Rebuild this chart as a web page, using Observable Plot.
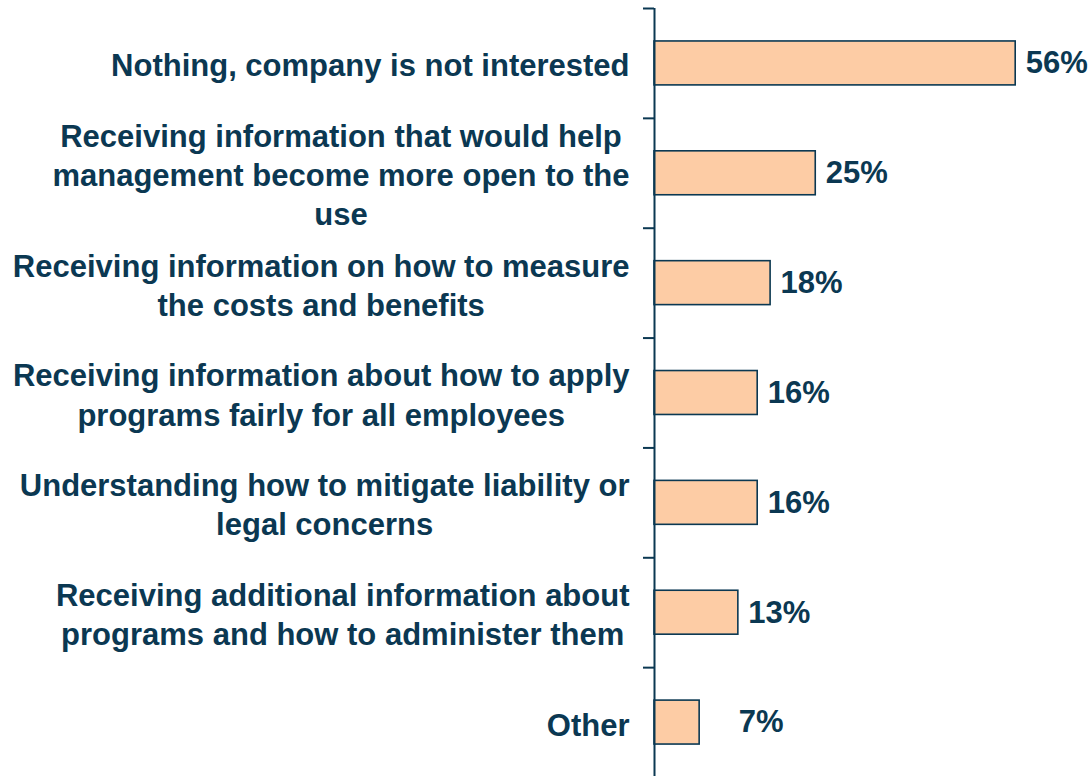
<!DOCTYPE html>
<html>
<head>
<meta charset="utf-8">
<script src="https://cdn.jsdelivr.net/npm/d3@7"></script>
<script src="https://cdn.jsdelivr.net/npm/@observablehq/plot@0.6"></script>
<style>
  html, body { margin: 0; padding: 0; background: #ffffff; }
  #chart { width: 1091px; height: 776px; overflow: hidden; }
</style>
</head>
<body>
<div id="chart"></div>
<script>
const categories = [
  "Nothing, company is not interested",
  "Receiving information that would help\nmanagement become more open to the\nuse",
  "Receiving information on how to measure\nthe costs and benefits",
  "Receiving information about how to apply\nprograms fairly for all employees",
  "Understanding how to mitigate liability or\nlegal concerns",
  "Receiving additional information about\nprograms and how to administer them",
  "Other"
];
const values = [56, 25, 18, 16, 16, 13, 7];
const valueLabels = ["56%", "25%", "18%", "16%", "16%", "13%", "7%"];

const data = categories.map((c, i) => ({category: c, value: values[i], label: valueLabels[i]}));

const W = 1091, H = 777, MT = 8, MB = 0, ML = 654, MR = 50;
const FONT = "'Liberation Sans', Arial, Helvetica, sans-serif";
const FS = 31;
const INK = "#0b3852";
const FILL = "#fdcca5";
const step = (H - MT - MB) / categories.length;

const ctx = document.createElement("canvas").getContext("2d");
ctx.font = `bold ${FS}px ${FONT}`;
const blockWidth = (s) => Math.max(...s.split("\n").map(l => ctx.measureText(l).width));

const labelMarks = data.map(d => Plot.text([d], {
  x: () => 0,
  y: "category",
  text: "category",
  textAnchor: "middle",
  lineAnchor: "middle",
  lineHeight: 1.26,
  dx: -25 - blockWidth(d.category) / 2,
  dy: 0.5,
  fill: INK,
  fontWeight: "bold",
  fontSize: FS
}));

const chart = Plot.plot({
  width: W,
  height: H,
  marginTop: MT,
  marginBottom: MB,
  marginLeft: ML,
  marginRight: MR,
  style: {fontFamily: FONT, background: "#ffffff", overflow: "visible"},
  x: {domain: [0, 60], axis: null},
  y: {domain: categories, axis: null, paddingInner: 0.6, paddingOuter: 0.3, round: false},
  marks: [
    Plot.barX(data, {x: "value", y: "category", fill: FILL, stroke: INK, strokeWidth: 1.6}),
    Plot.ruleX([0], {stroke: INK, strokeWidth: 2}),
    Plot.ruleY(data, {y: "category", x1: () => 0, x2: () => 0, insetLeft: -11, dy: -step / 2, stroke: INK, strokeWidth: 2}),
    Plot.ruleY(data.slice(-1), {y: "category", x1: () => 0, x2: () => 0, insetLeft: -11, dy: step / 2, stroke: INK, strokeWidth: 2}),
    Plot.text(data.filter(d => d.value >= 10), {x: "value", y: "category", text: "label", textAnchor: "start", dx: 10, dy: 0, fill: INK, fontWeight: "bold", fontSize: FS}),
    Plot.text(data.filter(d => d.value < 10), {x: "value", y: "category", text: "label", textAnchor: "start", dx: 39, dy: 0, fill: INK, fontWeight: "bold", fontSize: FS}),
    ...labelMarks
  ]
});
document.getElementById("chart").appendChild(chart);
</script>
</body>
</html>
